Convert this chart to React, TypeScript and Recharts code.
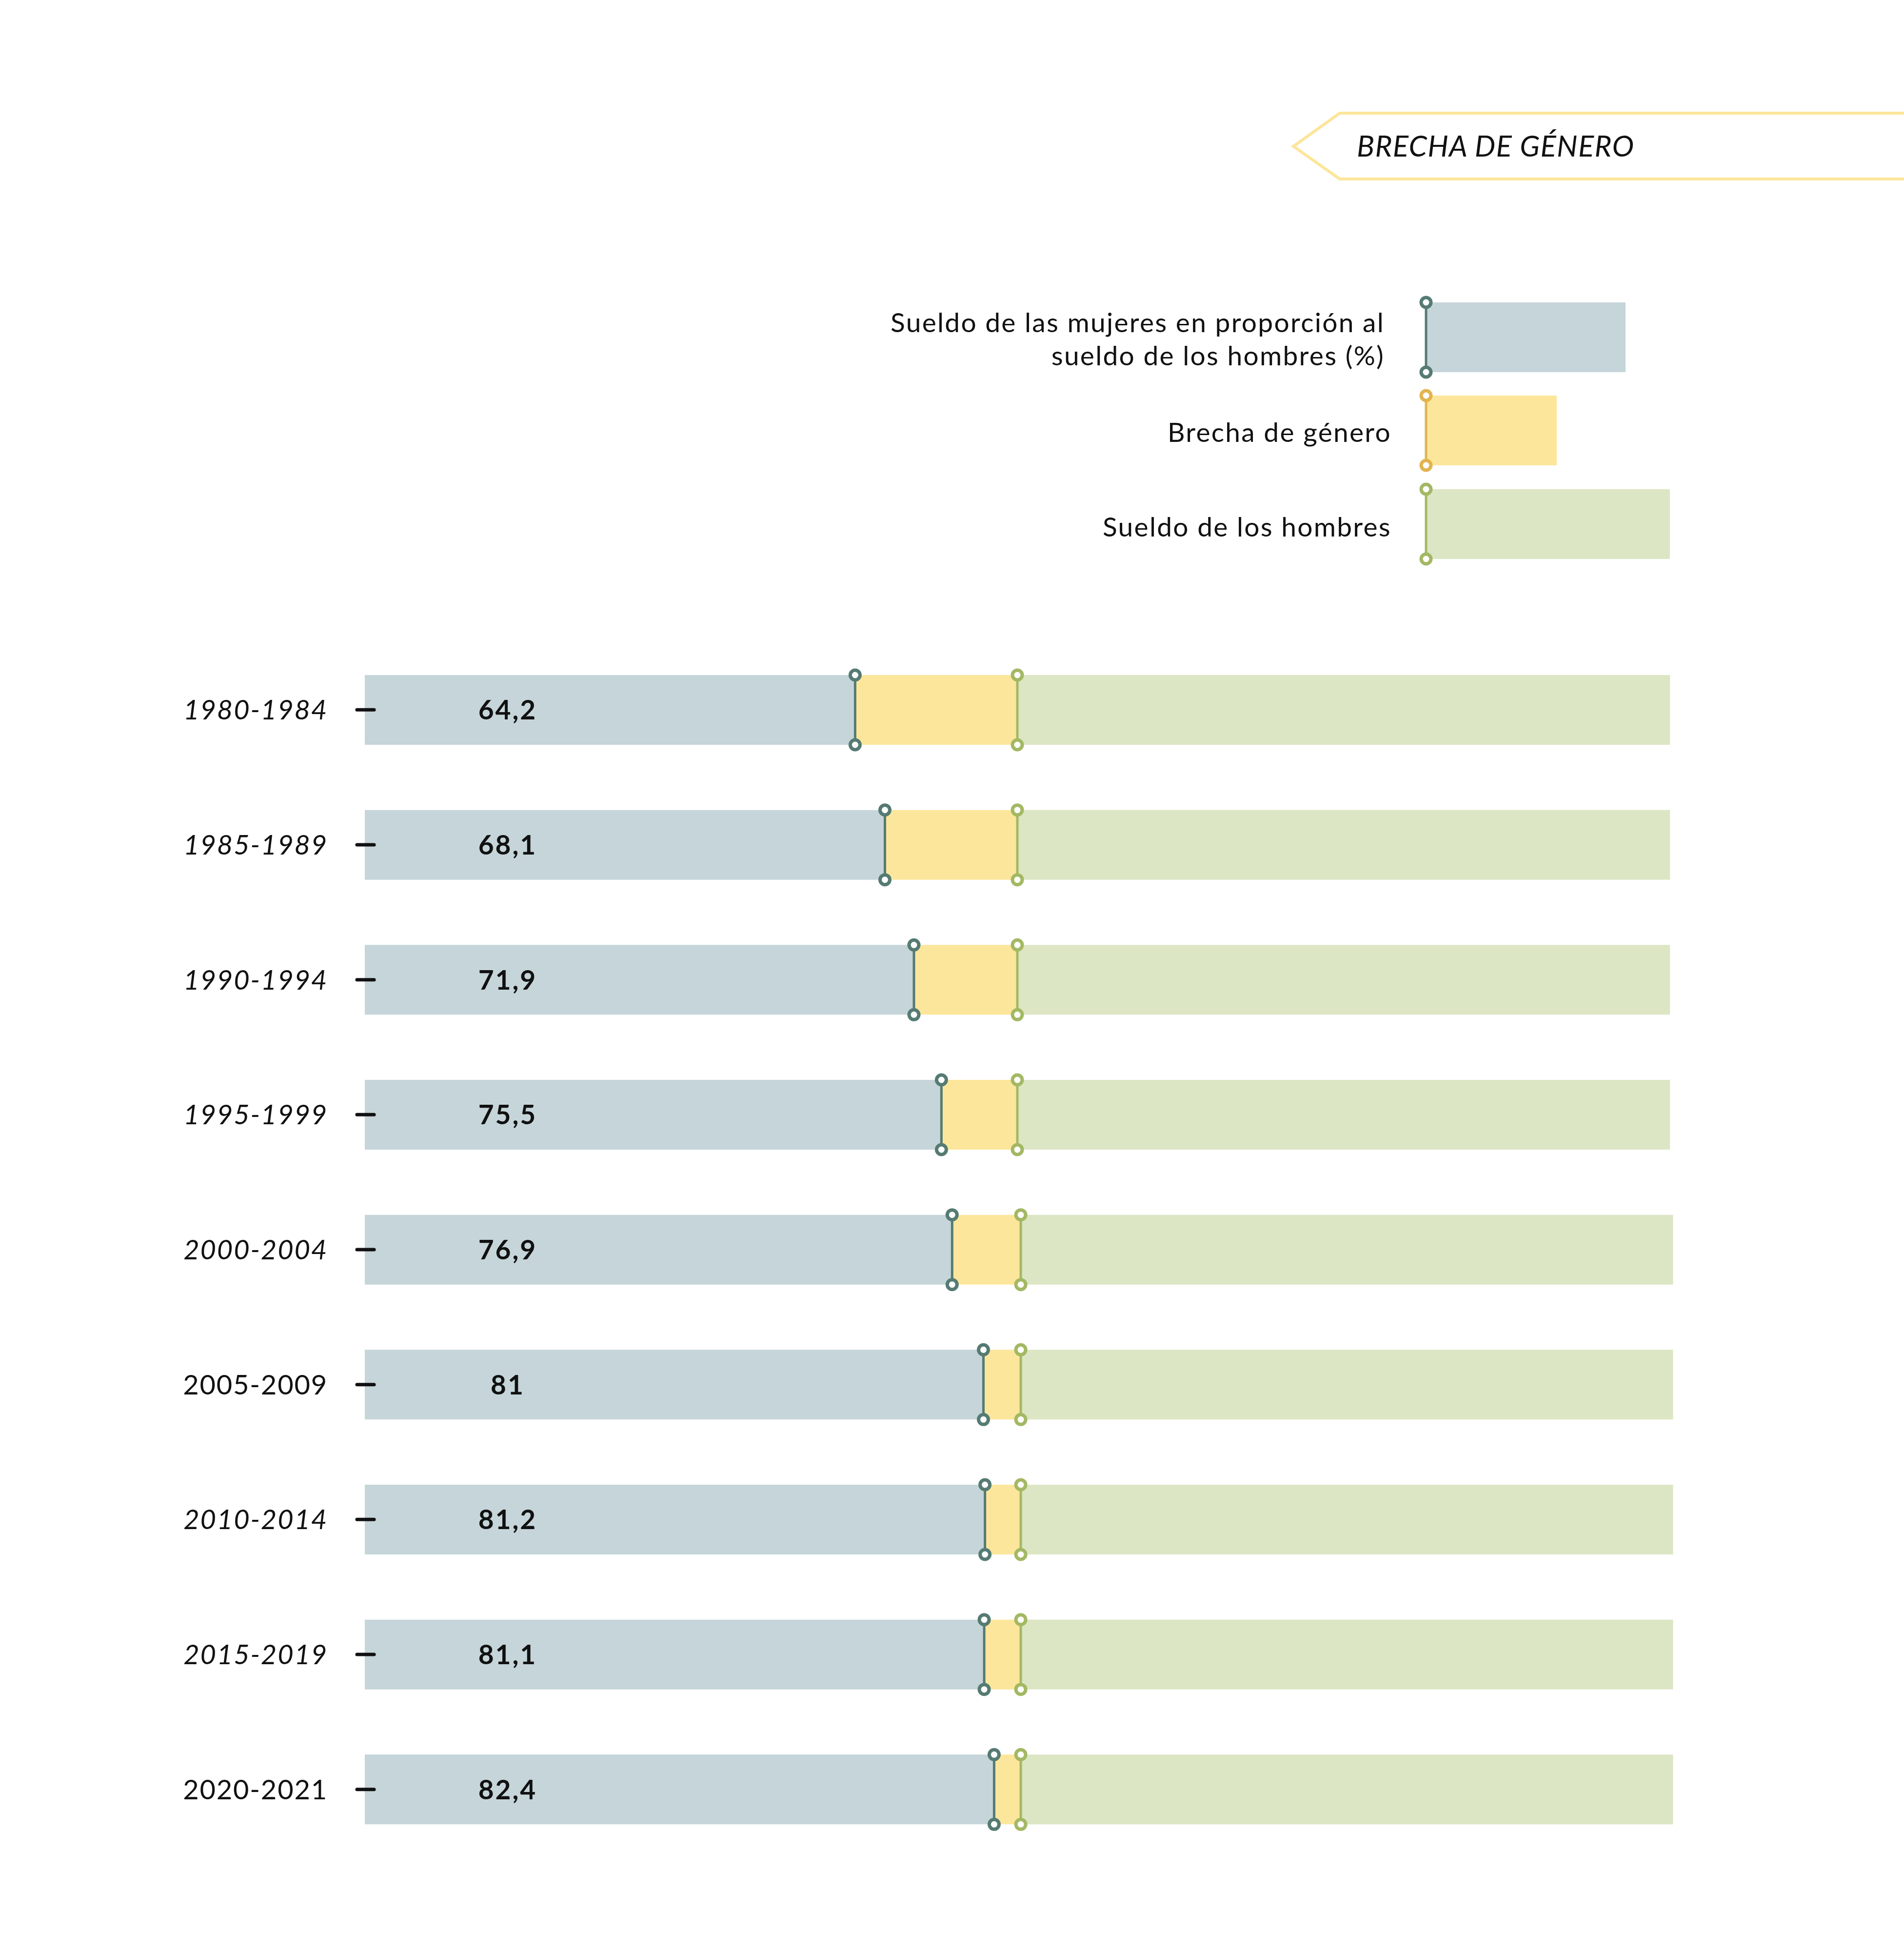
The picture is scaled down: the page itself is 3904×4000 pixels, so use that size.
import React from 'react';
import { BarChart, Bar, XAxis, YAxis, LabelList } from 'recharts';

// ---- data ----
const periods = ['1980-1984', '1985-1989', '1990-1994', '1995-1999', '2000-2004', '2005-2009', '2010-2014', '2015-2019', '2020-2021'];
// women's wage as % of men's wage (labels + blue bar length)
const womenPct = [64.2, 68.1, 71.9, 75.5, 76.9, 81, 81.2, 81.1, 82.4];
// position where the men's wage marker is drawn (chart units)
const menMarker = [85.44, 85.44, 85.44, 85.44, 85.89, 85.89, 85.89, 85.89, 85.89];
// end of the men's (green) bar (chart units)
const barEnd = [170.9, 170.9, 170.9, 170.9, 171.3, 171.3, 171.3, 171.3, 171.3];

const legendLabels = [
  ['Sueldo de las mujeres en proporción al', 'sueldo de los hombres (%)'],
  ['Brecha de género'],
  ['Sueldo de los hombres'],
];
const bannerTitle = 'BRECHA DE GÉNERO';
const uprightPeriods = ['2005-2009', '2020-2021'];

const data = periods.map((p, i) => ({
  period: p,
  women: womenPct[i],
  gap: +(menMarker[i] - womenPct[i]).toFixed(2),
  rest: +(barEnd[i] - menMarker[i]).toFixed(2),
}));

// ---- styles ----
const FONT = "Lato, 'Noto Sans', 'DejaVu Sans', sans-serif";
const C_BLUE = '#C5D5D9';
const C_YELLOW = '#FCE69B';
const C_GREEN = '#DCE6C4';
const C_TEAL = '#557B73';
const C_OLIVE = '#A3B863';
const C_GOLD = '#E2B44E';

const fmt = (v: number) => String(v).replace('.', ',');

const Marker = ({ x, y1, y2, color }: { x: number; y1: number; y2: number; color: string }) => (
  <g>
    <line x1={x} x2={x} y1={y1} y2={y2} stroke={color} strokeWidth={5} />
    <circle cx={x} cy={y1} r={10} fill="#fff" stroke={color} strokeWidth={7} />
    <circle cx={x} cy={y2} r={10} fill="#fff" stroke={color} strokeWidth={7} />
  </g>
);

const RestShape = (props: any) => {
  const { x, y, width, height, payload } = props;
  const ppu = payload.rest ? width / payload.rest : 0;
  const womenX = x - payload.gap * ppu;
  return (
    <g>
      <rect x={x} y={y} width={width} height={height} fill={C_GREEN} />
      <Marker x={womenX} y1={y} y2={y + height} color={C_TEAL} />
      <Marker x={x} y1={y} y2={y + height} color={C_OLIVE} />
    </g>
  );
};

const PeriodTick = (props: any) => {
  const { x, y, payload } = props;
  const upright = uprightPeriods.includes(payload.value);
  return (
    <g>
      <text
        x={x - 76}
        y={y}
        dy="0.36em"
        textAnchor="end"
        fontFamily={FONT}
        fontSize={56}
        letterSpacing={1.8}
        fontStyle={upright ? 'normal' : 'italic'}
        fill="#111"
      >
        {payload.value}
      </text>
      <line x1={x - 16} x2={x + 19} y1={y} y2={y} stroke="#111" strokeWidth={7} strokeLinecap="round" />
    </g>
  );
};

const ValueLabel = (props: any) => {
  const { x, y, height, value } = props;
  return (
    <text
      x={x + 293}
      y={y + height / 2}
      dy="0.36em"
      textAnchor="middle"
      fontFamily={FONT}
      fontWeight={700}
      fontSize={55}
      letterSpacing={3}
      fill="#111"
    >
      {fmt(value)}
    </text>
  );
};

const legendSwatches = [
  { color: C_BLUE, marker: C_TEAL, y: 620, w: 409, textY: [681, 749], textX: 2839 },
  { color: C_YELLOW, marker: C_GOLD, y: 811, w: 268, textY: [906], textX: 2853 },
  { color: C_GREEN, marker: C_OLIVE, y: 1003, w: 500, textY: [1100], textX: 2853 },
];

const Overlay = () => (
  <svg width={3904} height={1250} style={{ position: 'absolute', left: 0, top: 0 }}>
    <polygon
      points="3910,232 2747,232 2652,300 2747,367 3910,367"
      fill="none"
      stroke={C_YELLOW}
      strokeWidth={6}
    />
    <text x={2782} y={321} fontFamily={FONT} fontStyle="italic" fontSize={60} letterSpacing={1.3} fill="#111">
      {bannerTitle}
    </text>
    {legendSwatches.map((s, i) => (
      <g key={i}>
        <rect x={2924} y={s.y} width={s.w} height={143} fill={s.color} />
        <Marker x={2924} y1={s.y} y2={s.y + 143} color={s.marker} />
        {legendLabels[i].map((t, j) => (
          <text
            key={j}
            x={s.textX}
            y={s.textY[j]}
            textAnchor="end"
            fontFamily={FONT}
            fontSize={55}
            letterSpacing={2.3}
            fill="#111"
          >
            {t}
          </text>
        ))}
      </g>
    ))}
  </svg>
);

export default function App() {
  return (
    <div style={{ position: 'absolute', left: 0, top: 0, width: 3904, height: 4000, background: '#fff' }}>
      <BarChart
        width={3904}
        height={4000}
        data={data}
        layout="vertical"
        margin={{ top: 1317, bottom: 193, left: 0, right: 24 }}
      >
        <XAxis type="number" domain={[0, 200]} hide />
        <Bar dataKey="women" stackId="a" fill={C_BLUE} barSize={143} isAnimationActive={false}>
          <LabelList dataKey="women" content={ValueLabel} />
        </Bar>
        <Bar dataKey="gap" stackId="a" fill={C_YELLOW} barSize={143} isAnimationActive={false} />
        <Bar dataKey="rest" stackId="a" fill={C_GREEN} barSize={143} shape={RestShape} isAnimationActive={false} />
        <YAxis
          type="category"
          dataKey="period"
          width={748}
          tickSize={0}
          tickMargin={0}
          axisLine={false}
          tickLine={false}
          tick={PeriodTick}
          interval={0}
        />
      </BarChart>
      <Overlay />
    </div>
  );
}
